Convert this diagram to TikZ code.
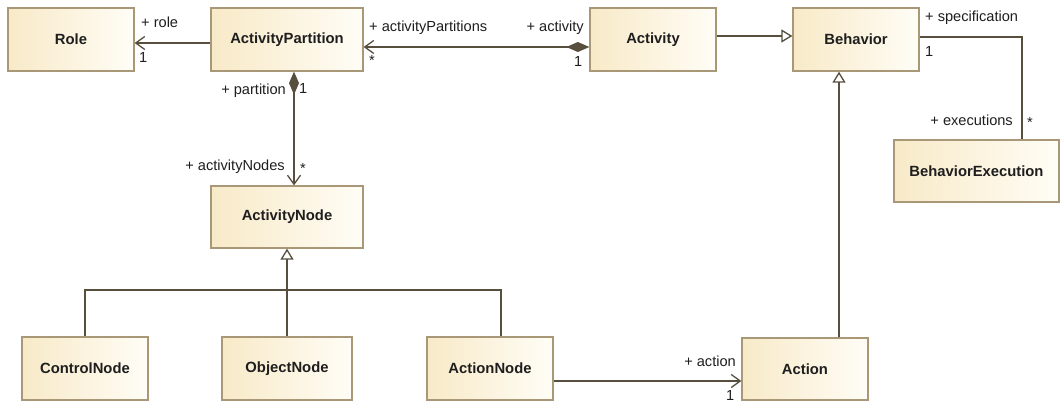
\documentclass[tikz,border=0pt]{standalone}
\usepackage{fontspec}
\setmainfont{Liberation Sans}
\usetikzlibrary{arrows.meta}
\definecolor{boxleft}{RGB}{248,234,200}
\definecolor{boxright}{RGB}{255,253,246}
\definecolor{boxline}{RGB}{168,152,120}
\definecolor{conn}{RGB}{88,78,62}
\definecolor{txt}{RGB}{30,30,30}
\begin{document}
\begin{tikzpicture}[x=1pt,y=1pt,
  cls/.style={draw=boxline, line width=1.3pt, left color=boxleft, right color=boxright,
    font=\fontsize{14.8}{17}\selectfont\bfseries, text=txt, inner sep=0pt, minimum height=63pt},
  lbl/.style={font=\fontsize{14.6}{16}\selectfont, text=txt, inner sep=0pt},
  link/.style={draw=conn, line width=1.3pt},
  navarrow/.style={-{Straight Barb[length=9pt,width=13pt]}},
  gen/.style={-{Triangle[open,length=11pt,width=13pt,fill=white]}},
  comp/.style={{Diamond[length=23pt,width=10pt,fill=conn]}-{Straight Barb[length=9pt,width=13pt]}}
]
\useasboundingbox (0,0) rectangle (1062,-401);

% classes
\node[cls, minimum width=126pt] (role) at (71,-39.5) {Role};
\node[cls, minimum width=152pt] (ap) at (287,-39.5) {ActivityPartition};
\node[cls, minimum width=126pt] (act) at (653,-39.5) {Activity};
\node[cls, minimum width=126pt] (beh) at (856,-39.5) {Behavior};
\node[cls, minimum width=165pt, minimum height=62pt] (bex) at (976.5,-171) {BehaviorExecution};
\node[cls, minimum width=152pt, minimum height=62pt] (an) at (287,-217) {ActivityNode};
\node[cls, minimum width=126pt] (cn) at (85,-368.5) {ControlNode};
\node[cls, minimum width=130pt] (on) at (287,-368.5) {ObjectNode};
\node[cls, minimum width=126pt] (actn) at (490,-368.5) {ActionNode};
\node[cls, minimum width=126pt, minimum height=62pt] (action) at (805,-369) {Action};

% ActivityPartition -> Role
\draw[link, navarrow] ([yshift=-3.5pt]ap.west) -- ([yshift=-3.5pt]role.east);
\node[lbl, anchor=base west] (lrole) at (141,-28) {+ role};
\node[lbl, anchor=base west] (lrole1) at (139,-63) {1};

% Activity <>-> ActivityPartition
\draw[link, comp] ([yshift=-7.5pt]act.west) -- ([yshift=-7.5pt]ap.east);
\node[lbl, anchor=base west] (lparts) at (369,-32) {+ activityPartitions};
\node[lbl, anchor=base west] (lpartsm) at (369,-66) {*};
\node[lbl, anchor=base east] (lact) at (584,-32) {+ activity};
\node[lbl, anchor=base west] (lact1) at (574,-67) {1};

% Activity -> Behavior (generalization)
\draw[link, gen] ([yshift=3.5pt]act.east) -- ([yshift=3.5pt]beh.west);

% Behavior -- BehaviorExecution
\coordinate (bcorner) at (1022,-37);
\draw[link] ([yshift=2.5pt]beh.east) -- (bcorner) -- (bcorner |- bex.north);
\node[lbl, anchor=base west] (lspec) at (925,-22) {+ specification};
\node[lbl, anchor=base west] (lspec1) at (925,-57) {1};
\node[lbl, anchor=base east] (lexec) at (1013,-125) {+ executions};
\node[lbl, anchor=base west] (lexecm) at (1027,-128) {*};

% Action -> Behavior (generalization)
\draw[link, gen] ([xshift=34pt]action.north) -- ([xshift=-17pt]beh.south);

% ActionNode -> Action
\draw[link, navarrow] ([yshift=-12.5pt]actn.east) -- ([yshift=-12pt]action.west);
\node[lbl, anchor=base east] (lacn) at (736,-366) {+ action};
\node[lbl, anchor=base west] (lacn1) at (726,-400) {1};

% ActivityPartition <>-> ActivityNode
\draw[link, comp] ([xshift=7pt]ap.south) -- ([xshift=7pt]an.north);
\node[lbl, anchor=base east] (lpart) at (286,-95) {+ partition};
\node[lbl, anchor=base west] (lpart1) at (299,-94) {1};
\node[lbl, anchor=base east] (lnodes) at (285,-170) {+ activityNodes};
\node[lbl, anchor=base west] (lnodesm) at (300,-173) {*};

% generalization tree to ActivityNode
\coordinate (tj) at (287,-290);
\draw[link, gen] (on.north) -- (an.south);
\draw[link] (cn.north) -- (cn.north |- tj) -- ([xshift=11pt]actn.north |- tj) -- ([xshift=11pt]actn.north);
\end{tikzpicture}
\end{document}
